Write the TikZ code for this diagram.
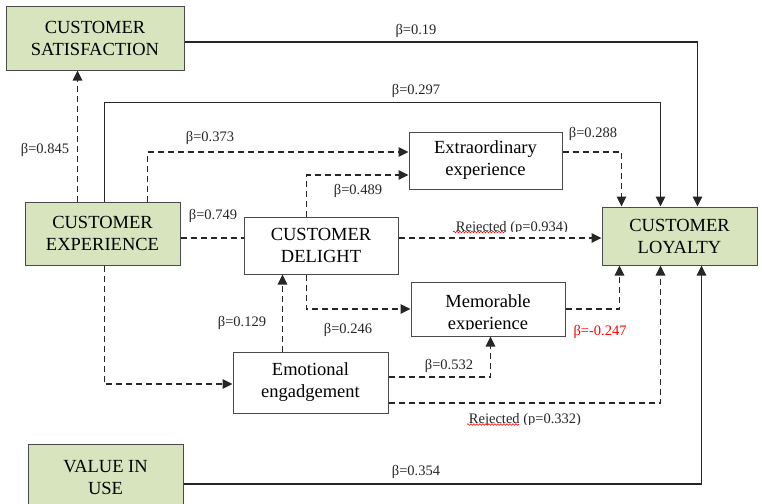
\documentclass[tikz,border=0pt]{standalone}
\usepackage{fontspec}
\setmainfont{Liberation Serif}
\usetikzlibrary{arrows.meta,calc,decorations.pathmorphing}
\definecolor{boxgreen}{HTML}{D7E4BD}
\definecolor{ln}{HTML}{262626}
\definecolor{bd}{HTML}{4A4A4A}
\begin{document}
\begin{tikzpicture}[x=1pt,y=-1pt,
  box/.style={draw=bd, line width=1pt, inner sep=0pt, align=center, font=\fontsize{18.5}{22}\selectfont, text=black},
  gbox/.style={box, fill=boxgreen},
  wbox/.style={box, fill=white},
  conn/.style={draw=ln, line width=1.1pt, -{Triangle[length=10pt,width=9.5pt]}},
  dconn/.style={conn, dash pattern=on 6pt off 4pt},
  lbl/.style={font=\fontsize{14.5}{17}\selectfont, inner sep=0pt, text=ln},
  squig/.style={draw=red, line width=0.6pt, decorate, decoration={snake, amplitude=0.8pt, segment length=3pt}}]
\useasboundingbox (0,0) rectangle (762,503);
\clip (0,0) rectangle (762,503);
\fill[white] (0,0) rectangle (762,503);

% boxes
\node[gbox, minimum width=178pt, minimum height=63pt] (sat) at (95,38.5) {CUSTOMER\\SATISFACTION};
\node[gbox, minimum width=155pt, minimum height=63pt] (exp) at (102.5,233.5) {CUSTOMER\\EXPERIENCE};
\node[wbox, minimum width=154pt, minimum height=57pt] (del) at (321,245.5) {CUSTOMER\\DELIGHT};
\node[wbox, minimum width=153pt, minimum height=57pt] (ext) at (485.5,160.5) {Extraordinary\\experience};
\node[gbox, minimum width=155pt, minimum height=58pt] (loy) at (679.5,236) {CUSTOMER\\LOYALTY};
\node[wbox, minimum width=154pt, minimum height=54pt] (mem) at (488,309) {};
\begin{scope}
  \clip (411,282) rectangle (565,329.5);
  \node[box, draw=none, anchor=base] (memtxt1) at (488,307) {Memorable};
  \node[box, draw=none, anchor=base] (memtxt2) at (488,329) {experience};
\end{scope}
\node[wbox, minimum width=155pt, minimum height=61pt] (emo) at (310.5,382.5) {Emotional\\engadgement};
\node[gbox, minimum width=155pt, minimum height=66pt] (val) at (105.5,477) {VALUE IN\\USE};

% connectors
\draw[dconn] ($(exp.north west)+(53,0)$) -- ($(sat.south west)+(72,0)$);
\draw[conn] ($(sat.east)+(0,3.5)$) -| ($(loy.north west)+(96,0)$);
\draw[conn] ($(exp.north west)+(80,0)$) -- ++(0,-99) -| ($(loy.north west)+(59,0)$);
\draw[dconn] ($(exp.north west)+(123,0)$) |- ($(ext.west)+(0,-8.5)$);
\draw[dconn] ($(del.north west)+(63,0)$) |- ($(ext.west)+(0,14.5)$);
\draw[dconn] ($(ext.east)+(0,-8.5)$) -| ($(loy.north west)+(20,0)$);
\draw[dconn, -] ($(exp.east)+(0,4.5)$) -- ($(del.west)+(0,-7.5)$);
\draw[dconn] ($(del.east)+(0,-7.5)$) -- ($(loy.west)+(0,2)$);
\draw[dconn] ($(del.south west)+(63,0)$) |- (mem.west);
\draw[dconn] (mem.east) -| ($(loy.south west)+(18,0)$);
\draw[dconn] ($(emo.north west)+(50,0)$) -- ($(del.south west)+(39,0)$);
\draw[dconn] ($(exp.south west)+(80,0)$) |- ($(emo.west)+(0,1.5)$);
\draw[dconn] ($(emo.east)+(0,-5.5)$) -| ($(mem.south west)+(80,0)$);
\draw[dconn] ($(emo.east)+(0,20.5)$) -| ($(loy.south west)+(59,0)$);
\draw[conn] ($(val.east)+(0,7)$) -| ($(loy.south west)+(100,0)$);

% labels
\node[lbl] (l19) at (416,31) {β=0.19};
\node[lbl] (l297) at (416,91) {β=0.297};
\node[lbl] (l845) at (45,150) {β=0.845};
\node[lbl] (l373) at (210,138) {β=0.373};
\node[lbl] (l489) at (358,191) {β=0.489};
\node[lbl] (l288) at (593,134) {β=0.288};
\node[lbl] (l749) at (213,216) {β=0.749};
\node[lbl] (l129) at (242,323) {β=0.129};
\node[lbl] (l246) at (348,330) {β=0.246};
\node[lbl] (l532) at (449,366) {β=0.532};
\node[lbl, text=red] (l247) at (600,332) {β=-0.247};
\node[lbl] (l354) at (416,472) {β=0.354};
\begin{scope}
  \clip (430,212) rectangle (600,231.5);
  \node[lbl, anchor=base] (rej1) at (512,231) {Rejected (p=0.934)};
\end{scope}
\begin{scope}
  \clip (440,405) rectangle (610,424);
  \node[lbl, anchor=base] (rej2) at (525,423.5) {Rejected (p=0.332)};
\end{scope}
\draw[squig] (453,232) -- (506,232);
\draw[squig] (467,424.5) -- (519,424.5);
\end{tikzpicture}
\end{document}
